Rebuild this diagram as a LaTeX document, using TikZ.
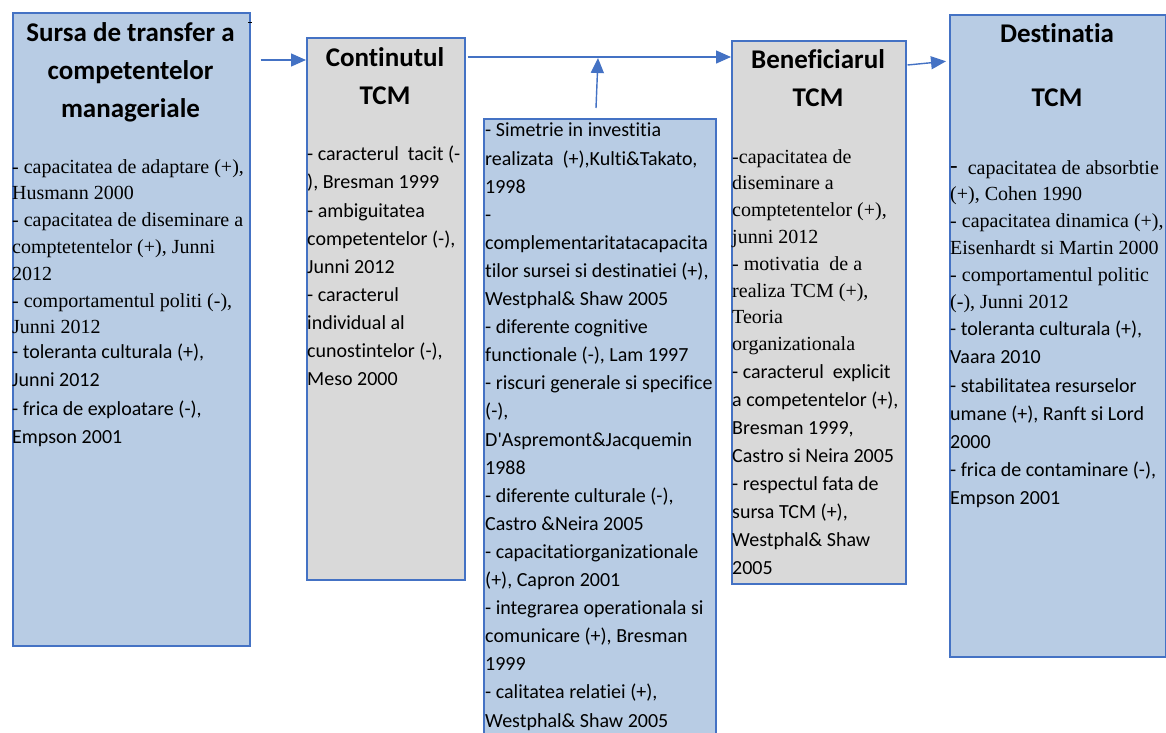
\documentclass[tikz,border=0pt]{standalone}
\usepackage{fontspec}
\setmainfont{Liberation Serif}
\newfontfamily\clb[Ligatures=NoCommon]{Carlito}
\newfontfamily\tms{Liberation Serif}
\usetikzlibrary{arrows.meta}
\definecolor{boxblue}{HTML}{B8CCE4}
\definecolor{boxgray}{HTML}{D9D9D9}
\definecolor{edgeblue}{HTML}{4472C4}
\tikzset{
  boxbase/.style={draw=edgeblue, line width=1.5pt, rectangle, inner sep=0pt, anchor=north west},
  bluebox/.style={boxbase, fill=boxblue},
  graybox/.style={boxbase, fill=boxgray},
  titletext/.style={font=\clb\bfseries\fontsize{27}{38}\selectfont, align=center, inner sep=0pt, anchor=north},
  tmsbody/.style={font=\tms\fontsize{20}{26.8}\selectfont, align=left, inner sep=0pt, anchor=north west},
  clbbody/.style={font=\clb\fontsize{20}{28.1}\selectfont, align=left, inner sep=0pt, anchor=north west},
  arr/.style={draw=edgeblue, line width=1.4pt, -{Triangle[length=15pt,width=13pt]}},
}
\begin{document}
\begin{tikzpicture}[x=1pt,y=-1pt]
\useasboundingbox (0,0) rectangle (1166,732);
% boxes
\node[bluebox, minimum width=237pt, minimum height=633pt] (b1) at (12,12) {};
\node[graybox, minimum width=158pt, minimum height=542pt] (b2) at (306,37) {};
\node[bluebox, minimum width=232pt, minimum height=640pt] (b3) at (483,118) {};
\node[graybox, minimum width=174pt, minimum height=543pt] (b4) at (731,40) {};
\node[bluebox, minimum width=216pt, minimum height=642pt] (b5) at (949,14) {};
% stray mark
\draw[line width=0.8pt] (248,22) -- (252,22);
% titles
\node[titletext] (h1) at (130.5,22) {Sursa de transfer a\\competentelor\\manageriale};
\node[titletext] (h2) at (385,47) {Continutul\\TCM};
\node[titletext] (h4) at (818,49) {Beneficiarul\\TCM};
\node[titletext] (h5) at (1057,23) {Destinatia\\[26pt]TCM};
% box 1 body
\node[tmsbody] (t1a) at (12,159) {- capacitatea de adaptare (+),\\Husmann 2000\\- capacitatea de diseminare a\\comptetentelor (+), Junni\\2012\\- comportamentul politi (-),\\Junni 2012};
\node[clbbody] (t1b) at (12,344) {- toleranta culturala (+),\\Junni 2012\\- frica de exploatare (-),\\Empson 2001};
% box 2 body
\node[clbbody] (t2) at (307,146) {- caracterul\ \ tacit (-\\), Bresman 1999\\- ambiguitatea\\competentelor (-),\\Junni 2012\\- caracterul\\individual al\\cunostintelor (-),\\Meso 2000};
% box 3 body
\node[clbbody] (t3) at (485,123) {- Simetrie in investitia\\realizata\ \ (+),Kulti\&Takato,\\1998\\-\\complementaritatacapacita\\tilor sursei si destinatiei (+),\\Westphal\& Shaw 2005\\- diferente cognitive\\functionale (-), Lam 1997\\- riscuri generale si specifice\\(-),\\D'Aspremont\&Jacquemin\\1988\\- diferente culturale (-),\\Castro \&Neira 2005\\- capacitatiorganizationale\\(+), Capron 2001\\- integrarea operationala si\\comunicare (+), Bresman\\1999\\- calitatea relatiei (+),\\Westphal\& Shaw 2005};
% box 4 body
\node[tmsbody] (t4a) at (732,149) {-capacitatea de\\diseminare a\\comptetentelor (+),\\junni 2012\\- motivatia\ \ de a\\realiza TCM (+),\\Teoria\\organizationala};
\node[clbbody] (t4b) at (732,364) {- caracterul\ \ explicit\\a competentelor (+),\\Bresman 1999,\\Castro si Neira 2005\\- respectul fata de\\sursa TCM (+),\\Westphal\& Shaw\\2005};
% box 5 body
\node[tmsbody] (t5a) at (950,160) {{\clb\fontsize{25}{26.8}\selectfont -}\ \ capacitatea de absorbtie\\(+), Cohen 1990\\- capacitatea dinamica (+),\\Eisenhardt si Martin 2000\\- comportamentul politic\\(-), Junni 2012};
\node[clbbody] (t5b) at (950,321) {- toleranta culturala (+),\\Vaara 2010\\- stabilitatea resurselor\\umane (+), Ranft si Lord\\2000\\- frica de contaminare (-),\\Empson 2001};
% connectors
\coordinate (a3s) at (596,108);
\coordinate (a3e) at (598,58);
\draw[arr] ([xshift=10pt]b1.east |- 0,60) -- (b2.west |- 0,60);
\draw[arr] ([xshift=2pt]b2.east |- 0,57) -- (b4.west |- 0,57);
\draw[arr] (a3s) -- (a3e);
\draw[arr, shorten >=3pt] ([xshift=1pt]b4.east |- 0,65) -- (b5.west |- 0,61);
\end{tikzpicture}
\end{document}
